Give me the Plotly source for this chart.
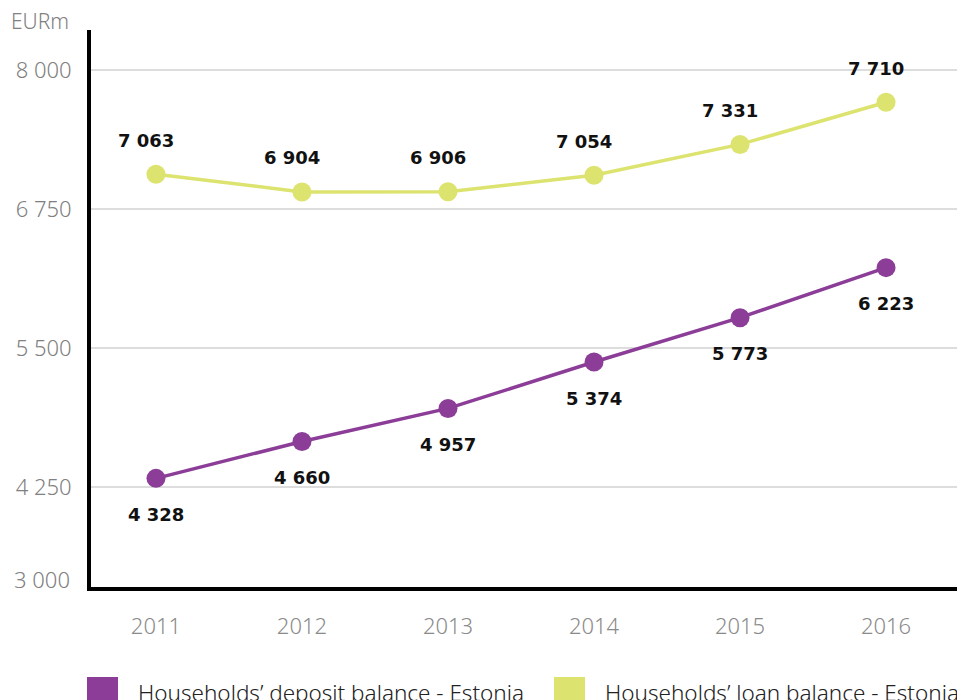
import plotly.graph_objects as go

years = [2011, 2012, 2013, 2014, 2015, 2016]
deposit = [4328, 4660, 4957, 5374, 5773, 6223]
loan = [7063, 6904, 6906, 7054, 7331, 7710]
series_names = ["Households’ deposit balance - Estonia", "Households’ loan balance - Estonia"]
y_ticks = [4250, 5500, 6750, 8000]

PURPLE = "#8B3D97"
GREEN = "#DCE36E"
FONT = "Noto Sans"
BOLD_FONT = "DejaVu Sans"

def fmt(v):
    return f"{v:,}".replace(",", " ")

fig = go.Figure()
fig.add_trace(go.Scatter(x=years, y=deposit, mode="lines+markers", name=series_names[0],
                         line=dict(color=PURPLE, width=3.5), marker=dict(color=PURPLE, size=19),
                         showlegend=False))
fig.add_trace(go.Scatter(x=years, y=loan, mode="lines+markers", name=series_names[1],
                         line=dict(color=GREEN, width=3.5), marker=dict(color=GREEN, size=19),
                         showlegend=False))

annotations = []
for x, v in zip(years, deposit):
    annotations.append(dict(x=x, y=v, xref="x", yref="y", text=f"<b>{fmt(v)}</b>", showarrow=False,
                            yshift=-36, font=dict(family=BOLD_FONT, size=18, color="#111")))
for x, v in zip(years, loan):
    annotations.append(dict(x=x, y=v, xref="x", yref="y", text=f"<b>{fmt(v)}</b>", showarrow=False,
                            yshift=34, xshift=-10, font=dict(family=BOLD_FONT, size=18, color="#111")))

# axis unit and bottom label
annotations.append(dict(x=0, y=(587 - 21) / 557, xref="paper", yref="paper", text="EURm",
                        showarrow=False, xanchor="right", yanchor="middle", xshift=-20,
                        font=dict(family=FONT, size=21, color="#808080", weight=300)))
annotations.append(dict(x=0, y=3420, xref="paper", yref="y", text="3 000", showarrow=False,
                        xanchor="right", xshift=-19,
                        font=dict(family=FONT, size=22, color="#808080", weight=300)))

# manual legend
shapes = []
legend_x = [87, 554]
legend_colors = [PURPLE, GREEN]
for lx, col, name in zip(legend_x, legend_colors, series_names):
    shapes.append(dict(type="rect", xref="paper", yref="paper",
                       x0=(lx - 91) / 866, x1=(lx + 31 - 91) / 866,
                       y0=-(677 - 587) / 557 - 31 / 557, y1=-(677 - 587) / 557,
                       fillcolor=col, line=dict(width=0)))
    annotations.append(dict(x=(lx + 49 - 91) / 866, y=-(692 - 587) / 557, xref="paper", yref="paper",
                            text=name, showarrow=False, xanchor="left", yanchor="middle",
                            font=dict(family=FONT, size=22.5, color="#222", weight=300)))

fig.update_layout(
    width=957, height=700,
    margin=dict(l=91, r=0, t=30, b=113),
    paper_bgcolor="white", plot_bgcolor="white",
    font=dict(family=FONT, size=22, color="#808080"),
    annotations=annotations, shapes=shapes,
    showlegend=False,
)
fig.update_xaxes(range=[2010.555, 2016.486], tickvals=years, ticktext=[str(y) for y in years],
                 showgrid=False, zeroline=False, showline=True, linecolor="black", linewidth=4,
                 ticks="outside", ticklen=17, tickcolor="rgba(0,0,0,0)",
                 tickfont=dict(family=FONT, size=22, color="#8a8a8a", weight=300))
fig.update_yaxes(range=[3351, 8360], tickvals=y_ticks, ticktext=[fmt(v) for v in y_ticks],
                 showgrid=True, gridcolor="#DDDDDD", gridwidth=1.5, zeroline=False,
                 showline=True, linecolor="black", linewidth=4,
                 ticks="outside", ticklen=11, tickcolor="rgba(0,0,0,0)",
                 tickfont=dict(family=FONT, size=22, color="#808080", weight=300))

fig.write_html("out.html")
